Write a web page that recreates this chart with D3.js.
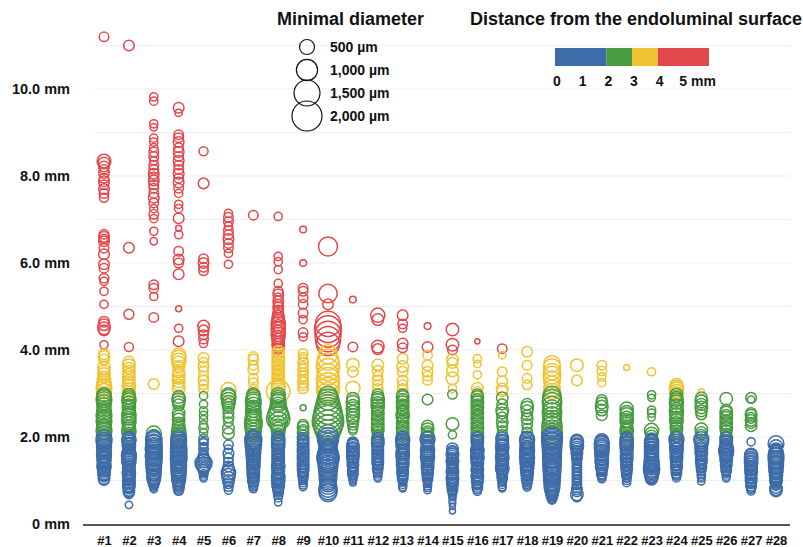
<!DOCTYPE html>
<html>
<head>
<meta charset="utf-8">
<script src="https://cdn.jsdelivr.net/npm/d3@7"></script>
<style>
  html, body { margin: 0; padding: 0; background: #fff; }
  svg { display: block; }
  text { font-family: "Liberation Sans", Arial, sans-serif; font-weight: bold; fill: #111; }
</style>
</head>
<body>
<svg id="chart" width="803" height="547"></svg>
<script>
// ---------------- DATA ----------------
const categories = d3.range(1, 29).map(i => "#" + i);
const yTicks = [0, 2, 4, 6, 8, 10];
const yTickLabels = ["0 mm", "2.0 mm", "4.0 mm", "6.0 mm", "8.0 mm", "10.0 mm"];
const sizeLegendValues = [500, 1000, 1500, 2000];
const sizeLegendLabels = ["500 µm", "1,000 µm", "1,500 µm", "2,000 µm"];
const colorBreaks = [0, 2, 3, 4, 6];
const colorNames = ["#3e6ca8", "#499a41", "#f0c332", "#e2484c"];
const colorTickValues = [0, 1, 2, 3, 4, 5];
const colorTickLabels = ["0", "1", "2", "3", "4", "5 mm"];

// each point: [distance from endoluminal surface (mm), minimal diameter (µm)]
const c1 = [[11.2,200],[8.34,420],[8.3,300],[8.22,250],[8.15,200],[8.07,250],[7.95,200],[7.88,250],[7.8,200],[7.7,250],[7.6,200],[7.5,180],
  [6.66,200],[6.6,250],[6.55,200],[6.5,250],[6.34,200],[6.2,250],[5.97,250],[5.88,200],[5.65,200],[5.58,150],[5.35,150],[5.05,150],[4.65,250],[4.58,300],[4.5,350],[4.45,250],[4.12,150],
  [3.9,250],[3.85,300],[3.78,250],[3.6,350],[3.52,300],[3.45,350],[3.38,300],[3.3,400],[3.24,450],[3.18,500],[3.12,550],[3.06,500],
  [2.97,450],[2.92,500],[2.86,550],[2.8,500],[2.74,450],[2.68,400],[2.62,450],[2.56,500],[2.5,550],[2.44,500],[2.38,550],[2.32,500],[2.26,450],[2.2,500],[2.14,550],[2.08,500],[2.02,450],
  [1.97,550],[1.93,500],[1.89,550],[1.85,500],[1.81,450],[1.77,500],[1.73,450],[1.69,400],[1.65,450],[1.61,500],[1.57,450],[1.53,400],[1.49,450],[1.45,400],[1.41,350],[1.37,400],[1.33,450],[1.29,400],[1.25,350],[1.21,300],[1.17,350],[1.13,300],[1.09,250],[1.05,300],[1.01,250]];
const c2 = [[11.0,250],[6.35,250],[4.82,220],[4.07,180],
  [3.72,300],[3.65,350],[3.58,300],[3.5,350],[3.44,300],[3.37,350],[3.3,300],[3.24,350],[3.17,400],[3.1,350],[3.04,300],
  [2.97,350],[2.91,400],[2.85,450],[2.79,400],[2.73,350],[2.67,400],[2.61,350],[2.55,400],[2.49,450],[2.43,400],[2.37,450],[2.31,400],[2.25,350],[2.19,400],[2.13,450],[2.07,400],[2.02,350],
  [1.97,400],[1.93,450],[1.89,400],[1.85,350],[1.81,400],[1.77,350],[1.73,300],[1.69,350],[1.65,400],[1.61,450],[1.57,500],[1.53,450],[1.49,400],[1.45,450],[1.41,400],[1.37,350],[1.33,300],[1.29,350],[1.25,300],[1.21,350],[1.17,400],[1.13,350],[1.09,300],[1.05,350],[1.01,300],[0.97,350],[0.93,300],[0.89,350],[0.85,300],[0.81,250],[0.77,300],[0.73,250],[0.69,200],[0.44,120]];
const c3 = [[9.82,150],[9.72,150],[9.2,150],[9.12,120],[8.87,150],[8.78,150],[8.65,150],[8.55,200],[8.45,200],[8.35,150],[8.25,200],[8.15,200],[8.05,250],[7.98,200],[7.9,250],[7.8,200],[7.72,200],[7.6,200],[7.5,250],[7.38,200],[7.25,150],[7.12,200],[7.02,150],
  [6.73,150],[6.5,120],[5.5,200],[5.42,200],[5.23,150],[4.75,200],
  [3.22,250],
  [2.08,500],[2.02,400],
  [1.97,550],[1.93,600],[1.89,550],[1.85,600],[1.81,550],[1.77,600],[1.73,650],[1.69,600],[1.65,550],[1.61,600],[1.57,650],[1.53,600],[1.49,550],[1.45,600],[1.41,550],[1.37,500],[1.33,550],[1.29,500],[1.25,450],[1.21,500],[1.17,450],[1.13,400],[1.09,450],[1.05,400],[1.01,350],[0.97,300],[0.93,250],[0.89,200],[0.85,150],[0.8,120]];
const c4 = [[9.57,250],[9.45,120],[8.95,200],[8.88,200],[8.78,250],[8.65,200],[8.55,250],[8.45,200],[8.35,250],[8.25,200],[8.15,200],[8.05,250],[7.95,200],[7.85,250],[7.72,200],[7.6,150],[7.35,150],[7.25,150],[7.03,250],[6.8,80],[6.65,150],[6.27,200],[6.08,250],[6.0,200],[5.74,250],[4.95,80],[4.5,150],[4.2,250],
  [3.88,450],[3.82,500],[3.76,450],[3.7,400],[3.62,300],[3.5,300],[3.42,350],[3.35,300],[3.28,350],[3.2,300],[3.12,350],
  [2.92,350],[2.86,400],[2.8,350],[2.74,300],[2.55,350],[2.48,300],[2.4,350],[2.32,300],[2.25,350],[2.18,400],[2.12,450],[2.06,500],[2.02,450],
  [1.97,500],[1.93,550],[1.89,500],[1.85,550],[1.81,500],[1.77,550],[1.73,600],[1.69,550],[1.65,600],[1.61,550],[1.57,600],[1.53,550],[1.49,600],[1.45,550],[1.41,500],[1.37,550],[1.33,500],[1.29,550],[1.25,500],[1.21,450],[1.17,500],[1.13,450],[1.09,400],[1.05,450],[1.01,400],[0.97,350],[0.93,300],[0.89,300],[0.85,250],[0.81,250],[0.77,200]];
const c5 = [[8.57,180],[7.83,250],[6.1,200],[6.0,250],[5.9,200],[5.82,200],[4.55,300],[4.45,250],[4.35,200],[4.25,200],[4.15,150],
  [3.82,250],[3.72,200],[3.62,250],[3.52,200],[3.4,200],[3.3,250],[3.2,200],[3.1,200],
  [2.95,150],[2.75,150],[2.6,150],[2.5,150],[2.4,150],[2.28,150],[2.2,200],[2.1,150],
  [1.95,200],[1.9,150],[1.85,200],[1.78,150],[1.72,200],[1.65,150],[1.6,200],[1.55,250],[1.5,300],[1.45,400],[1.4,650],[1.36,500],[1.32,400],[1.28,300],[1.24,250],[1.2,200],[1.15,150],[1.1,150],[1.05,120]];
const c6 = [[7.14,150],[7.05,200],[6.95,200],[6.85,150],[6.75,200],[6.65,200],[6.55,250],[6.45,200],[6.35,200],[6.22,150],[5.97,150],
  [3.08,500],
  [2.97,450],[2.92,500],[2.86,450],[2.8,400],[2.74,350],[2.68,300],[2.55,250],[2.45,250],[2.35,200],[2.2,300],[2.08,300],
  [1.82,200],[1.72,150],[1.62,250],[1.52,200],[1.42,200],[1.32,250],[1.24,350],[1.18,450],[1.12,400],[1.06,350],[1.0,300],[0.94,250],[0.86,200],[0.78,150]];
const c7 = [[7.1,200],
  [3.85,200],[3.78,250],[3.65,200],[3.55,250],[3.35,200],[3.25,200],[3.1,200],
  [2.97,400],[2.92,450],[2.86,500],[2.8,550],[2.74,500],[2.68,450],[2.62,500],[2.56,550],[2.5,500],[2.44,550],[2.38,650],[2.32,700],[2.26,650],[2.2,600],[2.14,550],[2.08,500],[2.02,450],
  [1.97,600],[1.93,650],[1.89,600],[1.85,550],[1.81,600],[1.77,550],[1.73,500],[1.69,450],[1.65,500],[1.61,450],[1.57,400],[1.53,450],[1.49,400],[1.45,350],[1.41,400],[1.37,350],[1.33,400],[1.29,350],[1.25,300],[1.21,350],[1.17,300],[1.13,350],[1.09,300],[1.05,250],[1.01,300],[0.97,250],[0.93,200],[0.89,200],[0.85,150],[0.81,150]];
const c8 = [[7.07,150],[6.15,150],[6.03,150],[5.85,150],[5.53,150],[5.35,200],[5.28,250],[5.2,200],[5.12,250],[5.05,200],[4.98,250],[4.92,200],[4.85,250],[4.78,300],[4.72,350],[4.66,400],[4.6,450],[4.54,400],[4.48,450],[4.42,400],[4.36,450],[4.3,400],[4.24,350],[4.18,300],[4.12,350],[4.06,300],[4.01,250],
  [3.96,350],[3.9,300],[3.84,350],[3.78,300],[3.72,350],[3.66,300],[3.6,350],[3.54,300],[3.48,350],[3.42,300],[3.36,350],[3.3,300],[3.24,350],[3.18,400],[3.12,450],[3.05,1200],
  [2.97,450],[2.92,400],[2.86,450],[2.8,550],[2.74,500],[2.66,650],[2.58,800],[2.5,1000],[2.42,1200],[2.36,800],[2.3,600],[2.24,500],[2.18,450],[2.12,400],[2.06,350],[2.02,300],
  [1.97,400],[1.93,350],[1.89,400],[1.85,350],[1.81,400],[1.77,350],[1.73,300],[1.69,350],[1.65,300],[1.61,350],[1.57,300],[1.53,350],[1.49,300],[1.45,350],[1.41,300],[1.37,350],[1.33,400],[1.29,350],[1.25,300],[1.21,350],[1.17,300],[1.13,350],[1.09,400],[1.05,350],[1.01,400],[0.97,350],[0.93,300],[0.89,350],[0.85,300],[0.81,250],[0.77,250],[0.73,200],[0.68,200],[0.6,150],[0.5,120]];
const c9 = [[6.77,100],[6.0,100],[5.42,200],[5.35,200],[5.2,200],[5.05,200],[4.85,200],[4.7,150],[4.4,200],[4.3,150],
  [3.92,200],[3.85,150],[3.78,200],[3.7,250],[3.62,200],[3.55,250],[3.48,200],[3.4,250],[3.32,200],[3.25,250],[3.18,200],[3.12,250],
  [2.67,80],[2.28,250],[2.22,300],[2.16,250],[2.1,300],[2.04,250],
  [1.97,300],[1.93,250],[1.89,300],[1.85,250],[1.81,300],[1.77,250],[1.73,300],[1.69,250],[1.65,300],[1.61,250],[1.57,300],[1.53,250],[1.49,300],[1.45,250],[1.41,300],[1.37,250],[1.33,300],[1.29,250],[1.25,300],[1.21,250],[1.17,200],[1.13,250],[1.09,200],[1.05,200],[1.0,150],[0.95,150],[0.9,150],[0.85,120]];
const c10 = [[6.38,800],[5.3,750],[5.05,250],[4.6,1400],[4.48,1600],[4.36,1500],[4.25,1400],[4.14,1200],
  [3.9,800],[3.78,1000],[3.66,1200],[3.55,1100],[3.44,1000],[3.33,1200],[3.22,1100],[3.1,1200],[3.03,900],
  [2.95,800],[2.86,1000],[2.77,1200],[2.68,1400],[2.6,1600],[2.52,1800],[2.44,2000],[2.36,2200],[2.28,1900],[2.2,1600],[2.12,1300],[2.04,1000],
  [1.97,1000],[1.92,900],[1.87,800],[1.82,750],[1.77,700],[1.72,750],[1.67,800],[1.62,900],[1.57,1000],[1.52,1100],[1.47,1000],[1.42,900],[1.37,800],[1.32,850],[1.27,800],[1.22,750],[1.17,700],[1.12,650],[1.07,700],[1.02,650],[0.97,600],[0.92,550],[0.87,600],[0.82,700],[0.77,750],[0.72,700]];
const c11 = [[5.16,100],[4.07,200],
  [3.66,350],[3.5,250],[3.12,450],
  [2.88,350],[2.8,400],[2.72,350],[2.65,400],[2.58,350],[2.5,400],[2.44,350],[2.36,300],[2.28,250],[2.2,200],[2.14,150],
  [1.88,250],[1.84,300],[1.8,350],[1.76,300],[1.72,350],[1.68,300],[1.64,350],[1.6,300],[1.56,350],[1.52,300],[1.48,250],[1.44,300],[1.4,250],[1.36,300],[1.32,250],[1.28,200],[1.24,250],[1.2,200],[1.16,250],[1.12,200],[1.08,150],[1.04,150],[1.0,120],[0.95,100]];
const c12 = [[4.8,450],[4.7,300],[4.08,350],[4.02,250],
  [3.66,300],[3.52,250],[3.4,200],[3.3,250],[3.2,200],[3.1,250],
  [2.97,300],[2.9,350],[2.84,400],[2.78,350],[2.72,400],[2.66,350],[2.6,300],[2.54,350],[2.48,300],[2.42,350],[2.36,300],[2.3,350],[2.24,300],[2.18,350],[2.12,300],[2.06,250],[2.02,250],
  [1.97,300],[1.93,350],[1.89,300],[1.85,350],[1.81,300],[1.77,250],[1.73,300],[1.69,250],[1.65,300],[1.61,250],[1.57,300],[1.53,250],[1.49,300],[1.45,250],[1.41,300],[1.37,250],[1.33,200],[1.29,250],[1.25,200],[1.2,200],[1.15,150],[1.1,150],[1.05,120]];
const c13 = [[4.8,250],[4.6,200],[4.5,150],[4.15,250],[4.05,200],
  [3.8,250],[3.62,300],[3.5,250],[3.3,250],[3.2,200],[3.1,250],
  [2.97,300],[2.92,350],[2.86,300],[2.8,350],[2.74,300],[2.68,350],[2.62,300],[2.56,350],[2.5,400],[2.44,350],[2.38,300],[2.32,350],[2.26,300],[2.2,350],[2.14,300],[2.08,350],[2.02,300],
  [1.97,400],[1.93,450],[1.89,400],[1.85,350],[1.81,400],[1.77,350],[1.73,300],[1.69,350],[1.65,400],[1.61,350],[1.57,400],[1.53,350],[1.49,300],[1.45,350],[1.41,300],[1.37,350],[1.33,300],[1.29,250],[1.25,300],[1.21,250],[1.17,300],[1.13,250],[1.09,200],[1.05,250],[1.01,200],[0.96,150],[0.91,150],[0.86,150],[0.82,120]];
const c14 = [[4.55,100],[4.07,250],
  [3.88,200],[3.65,250],[3.5,250],[3.4,200],[3.3,200],
  [2.86,250],[2.25,300],[2.18,350],[2.12,300],[2.06,350],[2.02,300],
  [1.95,500],[1.9,400],[1.86,350],[1.82,300],[1.78,350],[1.74,400],[1.7,450],[1.66,400],[1.62,350],[1.58,400],[1.54,450],[1.5,400],[1.46,350],[1.42,300],[1.38,350],[1.34,300],[1.3,350],[1.26,300],[1.22,250],[1.18,300],[1.14,250],[1.1,200],[1.06,250],[1.02,200],[0.98,150],[0.93,150],[0.88,150],[0.83,120],[0.78,120]];
const c15 = [[4.47,350],[4.12,350],[4.0,200],
  [3.78,300],[3.7,250],[3.52,300],[3.35,350],[3.12,150],
  [2.98,200],[2.3,350],[2.05,150],
  [1.73,300],[1.68,250],[1.64,300],[1.6,350],[1.56,300],[1.52,250],[1.48,300],[1.44,350],[1.4,300],[1.36,250],[1.32,300],[1.28,250],[1.24,300],[1.2,350],[1.16,300],[1.12,250],[1.08,300],[1.04,350],[1.0,300],[0.96,250],[0.92,300],[0.88,250],[0.84,200],[0.8,250],[0.76,200],[0.72,150],[0.67,150],[0.62,120],[0.55,100],[0.48,100],[0.4,80],[0.3,80]];
const c16 = [[4.2,60],
  [3.8,150],[3.68,120],[3.43,150],[3.12,300],[3.05,200],
  [2.97,300],[2.92,350],[2.86,300],[2.8,350],[2.74,300],[2.68,350],[2.62,300],[2.56,350],[2.5,300],[2.44,350],[2.38,300],[2.32,350],[2.26,300],[2.2,350],[2.14,300],[2.08,350],[2.02,300],
  [1.97,350],[1.93,300],[1.89,350],[1.85,300],[1.81,250],[1.77,300],[1.73,350],[1.69,400],[1.65,350],[1.61,300],[1.57,350],[1.53,400],[1.49,350],[1.45,300],[1.41,350],[1.37,300],[1.33,250],[1.29,300],[1.25,350],[1.21,300],[1.17,250],[1.13,300],[1.09,350],[1.05,300],[1.01,250],[0.97,300],[0.93,250],[0.89,200],[0.85,250],[0.8,200],[0.75,150]];
const c17 = [[4.03,200],
  [3.88,120],[3.5,200],[3.28,250],[3.1,300],[3.05,250],
  [2.9,300],[2.75,250],[2.62,350],[2.55,300],[2.45,250],[2.35,300],[2.25,250],[2.15,200],[2.05,250],
  [1.97,350],[1.93,300],[1.89,350],[1.85,300],[1.81,350],[1.77,400],[1.73,350],[1.69,300],[1.65,350],[1.61,300],[1.57,350],[1.53,400],[1.49,350],[1.45,300],[1.41,350],[1.37,300],[1.33,350],[1.29,400],[1.25,350],[1.21,300],[1.17,250],[1.13,200],[1.09,250],[1.05,200],[1.01,200],[0.96,150],[0.91,150],[0.86,150],[0.82,120]];
const c18 = [[3.96,250],[3.65,200],[3.35,200],[3.2,200],
  [2.75,300],[2.68,350],[2.6,300],[2.5,250],[2.42,300],[2.3,250],[2.2,200],[2.1,250],
  [1.97,450],[1.93,500],[1.89,450],[1.85,400],[1.81,450],[1.77,400],[1.73,450],[1.69,500],[1.65,450],[1.61,400],[1.57,450],[1.53,500],[1.49,450],[1.45,400],[1.41,450],[1.37,400],[1.33,350],[1.29,400],[1.25,350],[1.21,300],[1.17,350],[1.13,300],[1.09,250],[1.05,300],[1.01,250],[0.97,200],[0.93,200],[0.89,150],[0.85,150]];
const c19 = [[3.68,600],[3.6,650],[3.5,600],[3.42,700],[3.32,650],[3.22,550],[3.12,600],[3.05,550],
  [2.96,700],[2.88,800],[2.8,850],[2.72,800],[2.64,750],[2.56,850],[2.48,800],[2.4,750],[2.32,850],[2.24,900],[2.16,850],[2.08,950],[2.02,900],
  [1.98,950],[1.94,900],[1.9,850],[1.86,900],[1.82,850],[1.78,800],[1.74,850],[1.7,800],[1.66,750],[1.62,800],[1.58,750],[1.54,800],[1.5,750],[1.46,700],[1.42,750],[1.38,700],[1.34,750],[1.3,700],[1.26,650],[1.22,700],[1.18,650],[1.14,600],[1.1,650],[1.06,600],[1.02,550],[0.98,600],[0.94,550],[0.9,500],[0.86,550],[0.82,500],[0.78,450],[0.74,400],[0.7,350],[0.66,300],[0.62,250],[0.58,200],[0.55,150]];
const c20 = [[3.65,350],[3.3,250],
  [1.92,350],[1.88,400],[1.84,350],[1.8,400],[1.76,350],[1.72,300],[1.68,250],[1.64,300],[1.6,250],[1.56,200],[1.52,250],[1.48,200],[1.44,150],[1.4,200],[1.36,150],[1.32,200],[1.28,150],[1.24,200],[1.2,150],[1.16,200],[1.12,150],[1.08,200],[1.04,150],[1.0,200],[0.96,150],[0.92,200],[0.88,150],[0.84,200],[0.8,250],[0.74,200],[0.68,350],[0.62,200]];
const c21 = [[3.65,200],[3.52,200],[3.38,150],[3.25,150],
  [2.85,250],[2.78,300],[2.7,350],[2.62,300],[2.5,250],
  [1.92,400],[1.88,450],[1.84,500],[1.8,450],[1.76,500],[1.72,450],[1.68,400],[1.64,450],[1.6,400],[1.56,350],[1.52,400],[1.48,350],[1.44,400],[1.4,350],[1.36,300],[1.32,350],[1.28,300],[1.24,250],[1.2,200],[1.16,250],[1.12,200],[1.08,150],[1.04,150]];
const c22 = [[3.6,80],
  [2.65,400],[2.58,350],[2.52,400],[2.45,350],[2.38,400],[2.32,350],[2.26,300],[2.2,350],[2.14,400],[2.08,350],[2.02,300],
  [1.97,350],[1.93,400],[1.89,350],[1.85,400],[1.81,350],[1.77,400],[1.73,350],[1.69,300],[1.65,350],[1.61,300],[1.57,350],[1.53,300],[1.49,350],[1.45,300],[1.41,250],[1.37,300],[1.33,250],[1.29,300],[1.25,250],[1.21,200],[1.17,250],[1.13,200],[1.09,200],[1.05,150],[1.0,150],[0.95,150]];
const c23 = [[3.5,150],
  [2.97,150],[2.9,120],[2.62,150],[2.55,150],[2.45,120],[2.15,450],[2.08,350],[2.02,300],
  [1.95,350],[1.91,400],[1.87,450],[1.83,400],[1.79,450],[1.75,400],[1.71,450],[1.67,400],[1.63,450],[1.59,400],[1.55,450],[1.51,400],[1.47,450],[1.43,500],[1.39,450],[1.35,500],[1.31,550],[1.27,600],[1.23,550],[1.19,500],[1.15,450],[1.11,400],[1.07,350],[1.03,300]];
const c24 = [[3.2,350],[3.15,400],[3.1,450],[3.05,400],[3.01,350],
  [2.97,350],[2.92,300],[2.86,400],[2.8,450],[2.72,400],[2.65,350],[2.58,450],[2.52,400],[2.45,350],[2.38,400],[2.32,350],[2.26,300],[2.2,350],[2.14,300],[2.08,250],[2.02,300],
  [1.95,500],[1.9,450],[1.86,400],[1.82,350],[1.78,400],[1.74,350],[1.7,400],[1.66,350],[1.62,300],[1.58,350],[1.54,300],[1.5,350],[1.46,300],[1.42,250],[1.38,300],[1.34,250],[1.3,300],[1.26,250],[1.22,200],[1.18,250],[1.14,200],[1.1,150],[1.06,150]];
const c25 = [[3.04,80],
  [2.9,300],[2.82,350],[2.75,300],[2.68,350],[2.6,300],[2.52,250],[2.18,350],[2.1,300],[2.05,250],
  [1.95,500],[1.9,450],[1.85,400],[1.8,350],[1.76,300],[1.72,350],[1.68,300],[1.64,350],[1.6,300],[1.56,250],[1.52,300],[1.48,250],[1.44,300],[1.4,250],[1.36,200],[1.32,250],[1.28,200],[1.24,200],[1.2,150],[1.15,150],[1.1,150],[1.05,120],[0.98,120]];
const c26 = [[2.88,350],[2.62,300],[2.56,350],[2.5,300],[2.44,350],[2.38,300],[2.32,350],[2.26,300],[2.2,350],[2.14,300],[2.08,250],[2.02,250],
  [1.97,350],[1.92,300],[1.88,350],[1.84,300],[1.8,350],[1.76,400],[1.72,450],[1.68,500],[1.64,450],[1.6,400],[1.56,350],[1.52,300],[1.48,350],[1.44,300],[1.4,250],[1.36,300],[1.32,250],[1.28,200],[1.24,250],[1.2,200],[1.15,150],[1.1,150],[1.05,120]];
const c27 = [[2.9,250],[2.86,120],[2.55,250],[2.5,300],[2.44,250],[2.38,300],[2.32,250],[2.26,300],
  [1.89,150],[1.6,350],[1.56,400],[1.52,350],[1.48,400],[1.44,350],[1.4,400],[1.36,350],[1.32,300],[1.28,350],[1.24,300],[1.2,350],[1.16,300],[1.12,250],[1.08,300],[1.04,250],[1.0,300],[0.96,250],[0.92,200],[0.88,250],[0.84,200],[0.8,150],[0.76,150]];
const c28 = [[1.85,550],[1.78,400],[1.72,350],[1.68,400],[1.64,450],[1.6,500],[1.56,550],[1.52,500],[1.48,550],[1.44,500],[1.4,450],[1.36,500],[1.32,450],[1.28,400],[1.24,450],[1.2,400],[1.16,350],[1.12,400],[1.08,350],[1.04,300],[1.0,350],[0.96,300],[0.92,250],[0.88,200],[0.84,300],[0.8,350],[0.76,300]];

const columns = [c1,c2,c3,c4,c5,c6,c7,c8,c9,c10,c11,c12,c13,c14,c15,c16,c17,c18,c19,c20,c21,c22,c23,c24,c25,c26,c27,c28];

// ---------------- CHART ----------------
const svg = d3.select("#chart");

const x = d3.scalePoint().domain(categories).range([104, 776]);
const y = d3.scaleLinear().domain([0, 10]).range([524, 89]);
const r = d3.scaleSqrt().domain([0, 2000]).range([0, 15]);
const color = d3.scaleThreshold().domain(colorBreaks.slice(1, 4)).range(colorNames);

// gridlines
svg.append("g").selectAll("line")
  .data(d3.range(1, 12))
  .join("line")
  .attr("x1", 95).attr("x2", 790)
  .attr("y1", d => y(d)).attr("y2", d => y(d))
  .attr("stroke", "#efefef").attr("stroke-width", 1);

// y axis labels
const yAxis = d3.axisLeft(y).tickValues(yTicks).tickSize(0).tickPadding(0)
  .tickFormat((d, i) => yTickLabels[i]);
const gy = svg.append("g").attr("transform", "translate(70,0)").call(yAxis);
gy.select(".domain").remove();
gy.selectAll("text").attr("font-size", 14.5).attr("font-family", "Liberation Sans, Arial, sans-serif").attr("font-weight", "bold").attr("fill", "#111");

// x axis
const xAxis = d3.axisBottom(x).tickSize(0).tickPadding(0);
const gx = svg.append("g").attr("transform", `translate(0,${y(0) + 1})`).call(xAxis);
gx.select(".domain").attr("d", "M83,0H790").attr("stroke", "#555").attr("stroke-width", 2);
gx.selectAll("text").attr("font-size", 13).attr("font-family", "Liberation Sans, Arial, sans-serif").attr("font-weight", "bold").attr("fill", "#111").attr("dy", "0").attr("y", 20);

// points
const pts = [];
columns.forEach((col, i) => col.forEach(p => pts.push({cat: categories[i], dist: p[0], diam: p[1]})));
svg.append("g").selectAll("circle")
  .data(pts)
  .join("circle")
  .attr("cx", d => x(d.cat))
  .attr("cy", d => y(d.dist))
  .attr("r", d => r(d.diam))
  .attr("fill", "none")
  .attr("stroke", d => color(d.dist))
  .attr("stroke-width", 1.5);

// size legend
svg.append("text").attr("x", 277).attr("y", 25).attr("font-size", 18).text("Minimal diameter");
const sizeY = d3.scalePoint().domain(sizeLegendValues).range([47, 116]);
const sl = svg.append("g");
sl.selectAll("circle").data(sizeLegendValues).join("circle")
  .attr("cx", 307).attr("cy", d => sizeY(d)).attr("r", d => r(d))
  .attr("fill", "none").attr("stroke", "#111").attr("stroke-width", 1.2);
sl.selectAll("text").data(sizeLegendValues).join("text")
  .attr("x", 330).attr("y", d => sizeY(d) + 5).attr("font-size", 14)
  .text((d, i) => sizeLegendLabels[i]);

// color legend
svg.append("text").attr("x", 470).attr("y", 25).attr("font-size", 18).text("Distance from the endoluminal surface");
const cx = d3.scaleLinear().domain([0, 6]).range([555, 709]);
const cl = svg.append("g");
cl.selectAll("rect").data(d3.range(colorNames.length)).join("rect")
  .attr("x", i => cx(colorBreaks[i])).attr("width", i => cx(colorBreaks[i + 1]) - cx(colorBreaks[i]))
  .attr("y", 48).attr("height", 18)
  .attr("fill", i => colorNames[i]);
cl.selectAll("text").data(colorTickValues).join("text")
  .attr("x", (d, i) => i === colorTickValues.length - 1 ? cx(d) - 4 : cx(d) + 2)
  .attr("text-anchor", (d, i) => i === colorTickValues.length - 1 ? "start" : "middle")
  .attr("y", 86).attr("font-size", 14)
  .text((d, i) => colorTickLabels[i]);
</script>
</body>
</html>
